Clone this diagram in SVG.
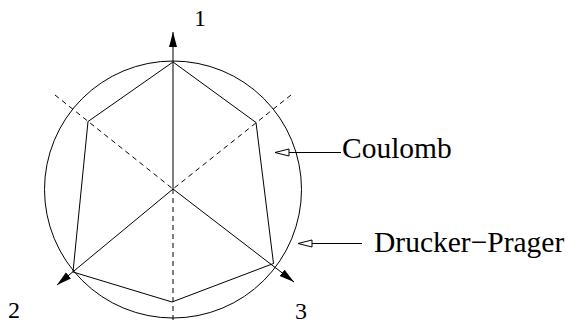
<svg xmlns="http://www.w3.org/2000/svg" width="570" height="324" viewBox="0 0 570 324">
  <defs>
    <marker id="solidArrow" markerWidth="16" markerHeight="10" refX="15" refY="4.5" orient="auto" markerUnits="userSpaceOnUse">
      <path d="M0,0.5 L15,4.5 L0,8.5 Z" fill="#000"/>
    </marker>
    <marker id="openArrow" markerWidth="16" markerHeight="10" refX="15" refY="4" orient="auto" markerUnits="userSpaceOnUse">
      <path d="M1,0.5 L15,4 L1,7.5 Z" fill="#fff" stroke="#000" stroke-width="1"/>
    </marker>
  </defs>
  <style>
    .ln { stroke: #000; stroke-width: 1; fill: none; }
    .dash { stroke: #000; stroke-width: 1; fill: none; stroke-dasharray: 5 4; }
    .lbl { font-family: "Liberation Serif", "Times New Roman", serif; fill: #000; }
    .num { font-size: 24px; }
    .name { font-size: 29.5px; }
  </style>

  <g id="drucker-prager-circle">
    <circle class="ln" cx="173" cy="189.5" r="128.5"/>
  </g>

  <g id="coulomb-hexagon">
    <polygon class="ln" points="173,62 88,121.5 73,272 172,302 273.5,263.5 256,122.5"/>
  </g>

  <g id="connectors">
    <line class="dash" x1="55" y1="95" x2="173" y2="189"/>
    <line class="dash" x1="291" y1="95" x2="173" y2="189"/>
    <line class="dash" x1="173" y1="189" x2="173" y2="324"/>
    <line class="ln" x1="173" y1="189" x2="173" y2="32" marker-end="url(#solidArrow)"/>
    <line class="ln" x1="173" y1="189" x2="57" y2="285" marker-end="url(#solidArrow)"/>
    <line class="ln" x1="173" y1="189" x2="294" y2="282" marker-end="url(#solidArrow)"/>
    <line class="ln" x1="341" y1="152.5" x2="275" y2="152.5" marker-end="url(#openArrow)"/>
    <line class="ln" x1="362" y1="243.5" x2="298" y2="243.5" marker-end="url(#openArrow)"/>
  </g>

  <g id="axis-1-label"><text class="lbl num" x="194" y="26">1</text></g>
  <g id="axis-2-label"><text class="lbl num" x="8" y="318">2</text></g>
  <g id="axis-3-label"><text class="lbl num" x="295" y="319">3</text></g>
  <g id="coulomb-label"><text class="lbl name" x="342" y="158">Coulomb</text></g>
  <g id="drucker-prager-label"><text class="lbl name" x="374" y="252">Drucker−Prager</text></g>
</svg>
